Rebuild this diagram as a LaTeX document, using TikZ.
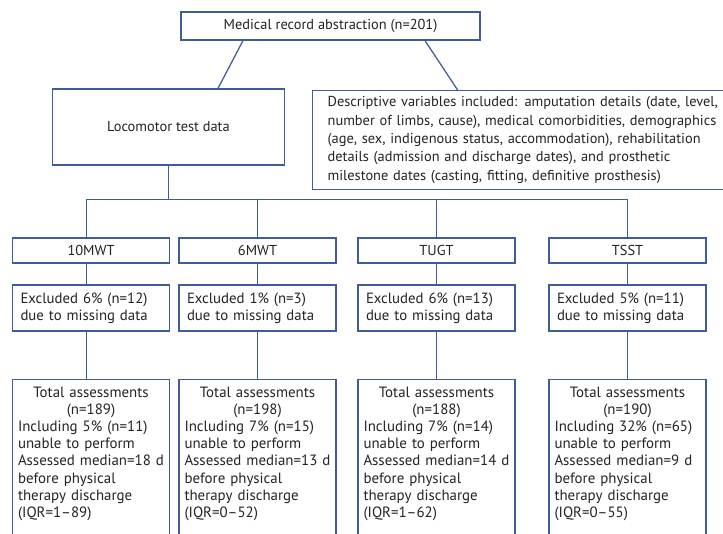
\documentclass[tikz,border=0pt]{standalone}
\usepackage{fontspec}
\setmainfont{PT Sans}
\usetikzlibrary{positioning}
\definecolor{edge}{RGB}{62,92,150}
\definecolor{ink}{RGB}{35,35,40}
\begin{document}
\begin{tikzpicture}[x=1pt,y=-1pt,
  every node/.style={text=ink,font=\fontsize{14.4}{18.3}\selectfont},
  box/.style={draw=edge,line width=1.25pt,rectangle,inner sep=0pt},
  testbox/.style={box,minimum width=157pt,minimum height=25pt},
  exclbox/.style={box,minimum width=157pt,minimum height=46pt,
    text width=141pt,align=left,inner xsep=8pt,
    font=\fontsize{14.8}{16.6}\selectfont},
  totalbox/.style={box,anchor=north,minimum width=157pt,
    text width=146pt,align=left,inner xsep=5.5pt,inner ysep=7pt,
    font=\fontsize{14.9}{17.2}\selectfont},
  link/.style={draw=edge,line width=1.25pt}]
\useasboundingbox (0,0) rectangle (723,534);
\clip (0,0) rectangle (723,534);
\fill[white] (0,0) rectangle (723,534);

% upper tier
\node[box,minimum width=299pt,minimum height=28pt] (top) at (330.5,26)
  {Medical record abstraction (n=201)};
\node[box,minimum width=232pt,minimum height=76pt] (loco) at (168.5,127)
  {Locomotor test data};
\node[box,anchor=north west,text width=410pt,align=left,
  inner xsep=9pt,inner ysep=6pt,minimum width=440pt] (desc) at (312,90)
  {Descriptive variables included: amputation details (date, level,\\
   number of limbs, cause), medical comorbidities, demographics\\
   (age, sex, indigenous status, accommodation), rehabilitation\\
   details (admission and discharge dates), and prosthetic\\
   milestone dates (casting, fitting, definitive prosthesis)};

\draw[link] ([xshift=-87.5pt]top.south) -- ([xshift=49.5pt]loco.north);
\draw[link] ([xshift=94.5pt]top.south) -- ([xshift=-75pt]desc.north);

% the four tests
\node[testbox] (t1) at (91,250.5) {10MWT};
\node[testbox] (t2) at (257.5,250.5) {6MWT};
\node[testbox] (t3) at (436.5,250.5) {TUGT};
\node[testbox] (t4) at (627.5,250.5) {TSST};

\coordinate (split) at (168.5,199.5);
\draw[link] (loco.south) -- (split);
\draw[link] ([xshift=-4.5pt]t1.north) |- (split) -| (t4.north);
\draw[link] (t2.north) -- (t2.north |- split);
\draw[link] (t3.north) -- (t3.north |- split);

% exclusions
\node[exclbox] (e1) at (91,308) {Excluded 6\% (n=12)\\due to missing data};
\node[exclbox] (e2) at (257.5,308) {Excluded 1\% (n=3)\\due to missing data};
\node[exclbox] (e3) at (436.5,308) {Excluded 6\% (n=13)\\due to missing data};
\node[exclbox] (e4) at (627.5,308) {Excluded 5\% (n=11)\\due to missing data};

\draw[link] ([xshift=-4.5pt]t1.south) -- ([xshift=-4.5pt]e1.north);
\draw[link] (t2.south) -- (e2.north);
\draw[link] (t3.south) -- (e3.north);
\draw[link] (t4.south) -- (e4.north);

% totals
\newcommand{\midline}[1]{\makebox[\linewidth][c]{#1}}
\newcommand{\oneline}[1]{\makebox[\linewidth][l]{#1}}
\node[totalbox] (a1) at (91,379) {\midline{Total assessments}\\\midline{(n=189)}\\
  Including 5\% (n=11)\\unable to perform\\\oneline{Assessed median=18 d}\\
  before physical\\therapy discharge\\(IQR=1–89)\\ \strut};
\node[totalbox] (a2) at (257.5,379) {\midline{Total assessments}\\\midline{(n=198)}\\
  Including 7\% (n=15)\\unable to perform\\\oneline{Assessed median=13 d}\\
  before physical\\therapy discharge\\(IQR=0–52)\\ \strut};
\node[totalbox] (a3) at (436.5,379) {\midline{Total assessments}\\\midline{(n=188)}\\
  Including 7\% (n=14)\\unable to perform\\\oneline{Assessed median=14 d}\\
  before physical\\therapy discharge\\(IQR=1–62)\\ \strut};
\node[totalbox] (a4) at (627.5,379) {\midline{Total assessments}\\\midline{(n=190)}\\
  Including 32\% (n=65)\\unable to perform\\\oneline{Assessed median=9 d}\\
  before physical\\therapy discharge\\(IQR=0–55)\\ \strut};

\draw[link] ([xshift=-4.5pt]e1.south) -- ([xshift=-4.5pt]a1.north);
\draw[link] (e2.south) -- (a2.north);
\draw[link] (e3.south) -- (a3.north);
\draw[link] (e4.south) -- (a4.north);
\end{tikzpicture}
\end{document}
